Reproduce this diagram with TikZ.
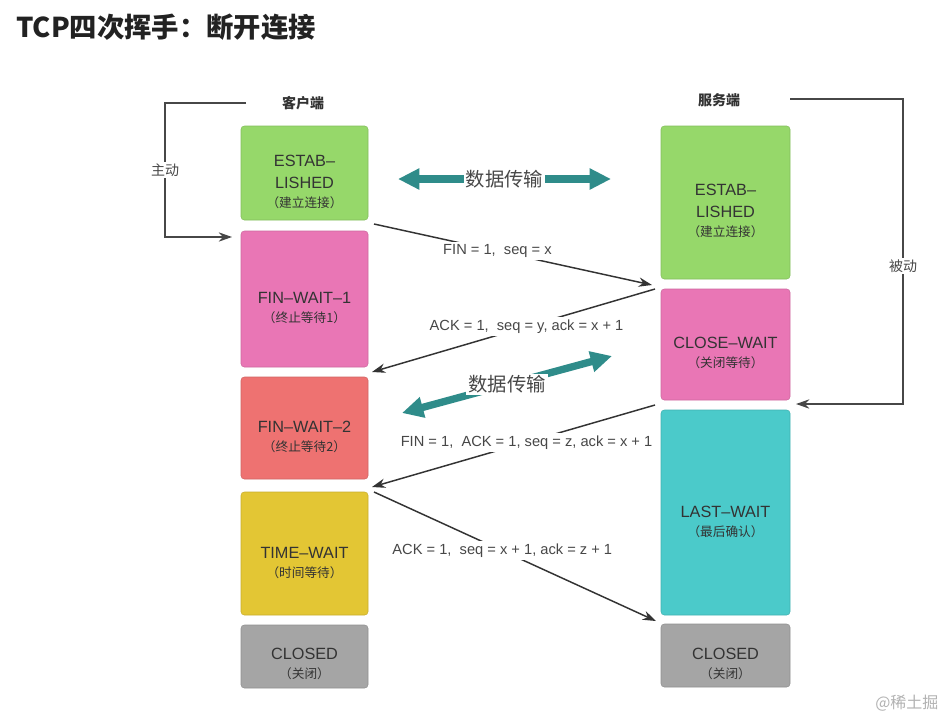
\documentclass[tikz,border=0pt]{standalone}
\usepackage{fontspec}
\setmainfont{Liberation Sans}
\newfontfamily\cjk{Noto Sans CJK SC}
\usetikzlibrary{arrows.meta}
\definecolor{cgreen}{HTML}{96D86A}
\definecolor{cpink}{HTML}{E976B5}
\definecolor{csalmon}{HTML}{EE7271}
\definecolor{cyellow}{HTML}{E3C634}
\definecolor{cgray}{HTML}{A5A5A5}
\definecolor{cteal}{HTML}{4BCACA}
\definecolor{darrow}{HTML}{2F8C8A}
\definecolor{txt}{HTML}{333333}
\definecolor{titlec}{HTML}{222222}
\definecolor{linec}{HTML}{333333}
\tikzset{
  statebox/.style={fill=#1, draw=#1!88!black, line width=0.4pt, rounded corners=2.5pt, inner sep=0pt},
  boxtext/.style={align=center, text=txt, font=\fontsize{12.2}{16.5}\selectfont, inner sep=0pt},
  msg/.style={fill=white, text=txt!90, font=\fontsize{11}{13}\selectfont, inner sep=2pt},
  msgarrow/.style={draw=linec, line width=1.1pt, -{Stealth[length=10pt,width=7pt]}},
  bracket/.style={draw=linec!90, line width=1.1pt, -{Stealth[length=10pt,width=7pt]}},
  dataarrow/.style={draw=darrow, line width=5.5pt, {Triangle[length=16pt,width=15pt]}-{Triangle[length=16pt,width=15pt]}},
  datalabel/.style={fill=white, text=txt!90, font=\cjk\fontsize{14.5}{16}\selectfont, inner sep=1.5pt},
  sidelabel/.style={fill=white, text=txt!90, font=\cjk\fontsize{10.5}{12}\selectfont, inner sep=1pt}
}
\newcommand{\subl}[1]{{\cjk\fontsize{9.5}{11}\selectfont #1}}
\begin{document}
\begin{tikzpicture}[x=0.75pt,y=-0.75pt]
\useasboundingbox (0,0) rectangle (948,711);
\fill[white] (0,0) rectangle (948,711);

% title
\node[anchor=west, font=\cjk\bfseries\fontsize{20.5}{24}\selectfont, text=titlec, inner sep=0pt] (title) at (16,27) {TCP四次挥手：断开连接};

% column labels
\node[font=\cjk\bfseries\fontsize{10.5}{12}\selectfont, text=txt] (lc) at (303,103) {客户端};
\node[font=\cjk\bfseries\fontsize{10.5}{12}\selectfont, text=txt] (ls) at (719,100) {服务端};

% client boxes
\node[statebox=cgreen, minimum width=95.25pt, minimum height=70.5pt] (c1) at (304.5,173) {};
\node[statebox=cpink, minimum width=95.25pt, minimum height=102pt] (c2) at (304.5,299) {};
\node[statebox=csalmon, minimum width=95.25pt, minimum height=76.5pt] (c3) at (304.5,428) {};
\node[statebox=cyellow, minimum width=95.25pt, minimum height=92.25pt] (c4) at (304.5,553.5) {};
\node[statebox=cgray, minimum width=95.25pt, minimum height=47.25pt] (c5) at (304.5,656.5) {};

% server boxes
\node[statebox=cgreen, minimum width=96.75pt, minimum height=114.75pt] (s1) at (725.5,202.5) {};
\node[statebox=cpink, minimum width=96.75pt, minimum height=83.25pt] (s2) at (725.5,344.5) {};
\node[statebox=cteal, minimum width=96.75pt, minimum height=153.75pt] (s3) at (725.5,512.5) {};
\node[statebox=cgray, minimum width=96.75pt, minimum height=47.25pt] (s4) at (725.5,655.5) {};

% box texts
\node[boxtext] (c1t) at (304.5,182) {ESTAB–\\LISHED\\[-2pt]\subl{（建立连接）}};
\node[boxtext] (c2t) at (304.5,308) {FIN–WAIT–1\\[-2pt]\subl{（终止等待1）}};
\node[boxtext] (c3t) at (304.5,437) {FIN–WAIT–2\\[-2pt]\subl{（终止等待2）}};
\node[boxtext] (c4t) at (304.5,563) {TIME–WAIT\\[-2pt]\subl{（时间等待）}};
\node[boxtext] (c5t) at (304.5,664) {CLOSED\\[-2pt]\subl{（关闭）}};
\node[boxtext] (s1t) at (725.5,211) {ESTAB–\\LISHED\\[-2pt]\subl{（建立连接）}};
\node[boxtext] (s2t) at (725.5,353) {CLOSE–WAIT\\[-2pt]\subl{（关闭等待）}};
\node[boxtext] (s3t) at (725.5,522) {LAST–WAIT\\[-2pt]\subl{（最后确认）}};
\node[boxtext] (s4t) at (725.5,664) {CLOSED\\[-2pt]\subl{（关闭）}};

% bracket arrows
\coordinate (bl1) at (246,103);
\coordinate (bl2) at (165,103);
\coordinate (bl3) at (165,237);
\coordinate (bl4) at (232,237);
\draw[bracket] (bl1) -- (bl2) -- (bl3) -- (bl4);
\node[sidelabel] (zd) at (165,170) {主动};
\coordinate (br1) at (790,99);
\coordinate (br2) at (903,99);
\coordinate (br3) at (903,404);
\coordinate (br4) at (796,404);
\draw[bracket] (br1) -- (br2) -- (br3) -- (br4);
\node[sidelabel] (bd) at (903,266) {被动};

% message arrows
\coordinate (m1a) at (374,224);
\coordinate (m1b) at (652,285);
\coordinate (m2a) at (655,289);
\coordinate (m2b) at (372,372);
\coordinate (m3a) at (655,405);
\coordinate (m3b) at (372,487);
\coordinate (m4a) at (374,492);
\coordinate (m4b) at (656,621);
\draw[msgarrow] (m1a) -- node[msg, pos=0.444] (l1) {FIN = 1,\ \ seq = x} (m1b);
\draw[msgarrow] (m2a) -- node[msg, pos=0.454] (l2) {ACK = 1,\ \ seq = y, ack = x + 1} (m2b);
\draw[msgarrow] (m3a) -- node[msg, pos=0.454] (l3) {FIN = 1,\ \ ACK = 1, seq = z, ack = x + 1} (m3b);
\draw[msgarrow] (m4a) -- node[msg, pos=0.455] (l4) {ACK = 1,\ \ seq = x + 1, ack = z + 1} (m4b);

% data transfer arrows
\coordinate (d1a) at (398,179);
\coordinate (d1b) at (611,179);
\draw[dataarrow] (d1a) -- node[datalabel] (dl1) {数据传输} (d1b);
\coordinate (d2a) at (402,413);
\coordinate (d2b) at (612,356);
\draw[dataarrow] (d2a) -- node[datalabel] (dl2) {数据传输} (d2b);

% watermark
\node[anchor=west, font=\cjk\fontsize{12}{14}\selectfont, text=black!30, inner sep=0pt] (wm) at (875,703) {@稀土掘};
\end{tikzpicture}
\end{document}
